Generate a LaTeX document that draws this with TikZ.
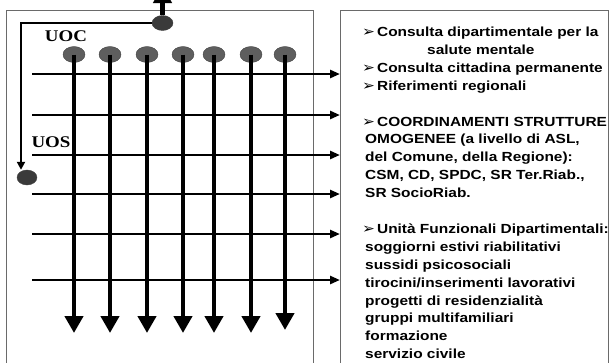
\documentclass[tikz,border=0pt]{standalone}
\usepackage{fontspec}
\setmainfont{Liberation Sans}
\newfontfamily\boxfont[FakeStretch=1.17]{Liberation Sans}
\newfontfamily\labfont[FakeStretch=1.16]{Liberation Serif}
\newfontfamily\pfeilfont[FakeStretch=1.1]{DejaVu Sans}
\usetikzlibrary{shapes.geometric,arrows.meta}
\definecolor{unitgray}{HTML}{5E5E5E}
\definecolor{headgray}{HTML}{3A3A3A}
\definecolor{framegray}{HTML}{6A6A6A}
\newcommand{\pfeil}{{\pfeilfont\fontsize{14}{14}\selectfont ➢}\hspace{2pt}}
\tikzset{
	unit/.style={ellipse, draw=black!75, fill=unitgray, minimum width=22pt, minimum height=16pt, inner sep=0pt},
	head/.style={unit, fill=headgray, minimum width=21pt, minimum height=15pt},
	frame/.style={draw=framegray, line width=0.9pt, anchor=north west, inner sep=0pt},
	varrow/.style={line width=4.5pt, -{Triangle[width=18pt,length=17pt]}},
	harrow/.style={line width=2.5pt, -{Triangle[width=8pt,length=10pt]}},
	linkarrow/.style={line width=2pt, -{Triangle[width=8pt,length=8pt]}},
	item/.style={anchor=base west, inner sep=0pt, font=\boxfont\bfseries\fontsize{13.2}{15}\selectfont},
	lab/.style={inner sep=0pt, font=\labfont\bfseries\fontsize{16.3}{16}\selectfont},
}

\begin{document}
\begin{tikzpicture}[x=1pt, y=-1pt]
\path[use as bounding box, clip] (0,0) rectangle (611,362);

\node[frame, minimum width=307pt, minimum height=400pt] (lbox) at (6,10) {};
\node[frame, minimum width=268pt, minimum height=400pt] (rbox) at (340,10) {};

% UOC / UOS
\node[head] (oc) at (162.5,23) {};
\coordinate (top) at (162.5,-14);
\draw[varrow] (oc.north) -- (top);
\node[head, minimum width=20pt] (os) at (27,177.5) {};
\coordinate (bend) at (21,23);
\draw[linkarrow] (oc.west) -- (bend) -- (bend |- os.north);
\node[lab] (uoc) at (66,36) {UOC};
\node[lab] (uos) at (51,142) {UOS};

% righe
\coordinate (h1) at (32,74);
\coordinate (h2) at (32,115);
\coordinate (h3) at (32,155);
\coordinate (h4) at (32,194);
\coordinate (h5) at (32,234);
\coordinate (h6) at (32,280);
\draw[harrow] (h1) -- (h1 -| rbox.west);
\draw[harrow] (h2) -- (h2 -| rbox.west);
\draw[harrow] (h3) -- (h3 -| rbox.west);
\draw[harrow] (h4) -- (h4 -| rbox.west);
\draw[harrow] (h5) -- (h5 -| rbox.west);
\draw[harrow] (h6) -- (h6 -| rbox.west);

% colonne
\coordinate (floor) at (0,333);
\node[unit] (c1) at (74,54.5) {};
\node[unit] (c2) at (110,54.5) {};
\node[unit] (c3) at (147,54.5) {};
\node[unit] (c4) at (183,54.5) {};
\node[unit] (c5) at (214,54.5) {};
\node[unit] (c6) at (251,54.5) {};
\node[unit] (c7) at (285,54.5) {};
\draw[varrow] (c1.center) -- (c1 |- floor);
\draw[varrow] (c2.center) -- (c2 |- floor);
\draw[varrow] (c3.center) -- (c3 |- floor);
\draw[varrow] (c4.center) -- (c4 |- floor);
\draw[varrow] (c5.center) -- (c5 |- floor);
\draw[varrow] (c6.center) -- (c6 |- floor);
\draw[varrow] (c7.center) -- ([yshift=3pt]c7 |- floor);

% testo
\node[item] (t1) at (362,36.5) {\pfeil Consulta dipartimentale per la};
\node[item] (t2) at (427,54.4) {salute mentale};
\node[item] (t3) at (362,72.3) {\pfeil Consulta cittadina permanente};
\node[item] (t4) at (362,90.2) {\pfeil Riferimenti regionali};
\node[item] (t5) at (362,126) {\pfeil COORDINAMENTI STRUTTURE};
\node[item] (t6) at (365,143.9) {OMOGENEE (a livello di ASL,};
\node[item] (t7) at (365,161.8) {del Comune, della Regione):};
\node[item] (t8) at (365,179.7) {CSM, CD, SPDC, SR Ter.Riab.,};
\node[item] (t9) at (365,197.6) {SR SocioRiab.};
\node[item] (t10) at (362,233.4) {\pfeil Unità Funzionali Dipartimentali:};
\node[item] (t11) at (365,251.3) {soggiorni estivi riabilitativi};
\node[item] (t12) at (365,269.2) {sussidi psicosociali};
\node[item] (t13) at (365,287.1) {tirocini/inserimenti lavorativi};
\node[item] (t14) at (365,305) {progetti di residenzialità};
\node[item] (t15) at (365,322.9) {gruppi multifamiliari};
\node[item] (t16) at (365,340.8) {formazione};
\node[item] (t17) at (365,358.7) {servizio civile};
\end{tikzpicture}
\end{document}
